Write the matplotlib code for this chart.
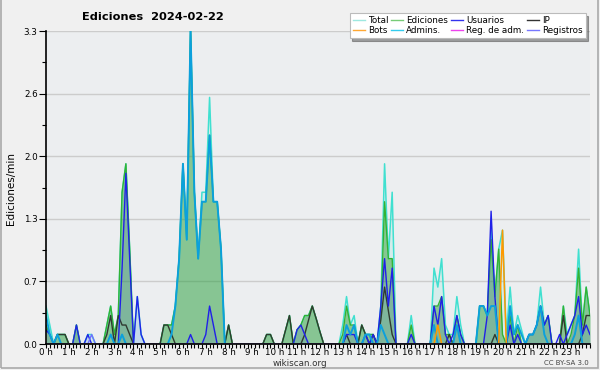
import numpy as np
import matplotlib
matplotlib.use("Agg")
import matplotlib.pyplot as plt
from matplotlib.lines import Line2D
from matplotlib.patches import Rectangle


# edits per minute, one value per 10-minute slot (0h00 .. 23h50)
total = [
    0.4, 0.2, 0, 0.1, 0.1, 0.1, 0, 0, 0.2, 0, 0, 0.1,
    0.1, 0, 0, 0, 0.2, 0.4, 0.1, 0.3, 1.6, 1.9, 1.0, 0,
    0.5, 0.1, 0, 0, 0, 0, 0, 0.2, 0.2, 0.2, 0.4, 0.9,
    1.9, 1.1, 3.3, 1.6, 0.9, 1.6, 1.6, 2.6, 1.5, 1.5, 1.0, 0,
    0.2, 0, 0, 0, 0, 0, 0, 0, 0, 0, 0.1, 0.1,
    0, 0, 0, 0.15, 0.3, 0, 0.15, 0.2, 0.3, 0.3, 0.4, 0.27,
    0.13, 0, 0, 0, 0, 0, 0.2, 0.5, 0.2, 0.3, 0, 0.2,
    0.1, 0.1, 0.1, 0, 0.4, 1.9, 0.9, 1.6, 0, 0, 0, 0,
    0.3, 0, 0, 0, 0, 0, 0.8, 0.6, 0.9, 0.2, 0.1, 0.1,
    0.5, 0.2, 0, 0, 0, 0, 0.4, 0.4, 0.3, 1.2, 0.5, 1.0,
    1.2, 0.1, 0.6, 0.1, 0.3, 0.15, 0, 0.1, 0.1, 0.2, 0.6, 0.2,
    0.3, 0, 0, 0, 0.4, 0.1, 0.2, 0.3, 1.0, 0.2, 0.6, 0.3,
]

ediciones = [
    0.2, 0.1, 0, 0.1, 0.1, 0.1, 0, 0, 0.2, 0, 0, 0,
    0, 0, 0, 0, 0.2, 0.4, 0.1, 0.3, 1.6, 1.9, 1.0, 0,
    0, 0, 0, 0, 0, 0, 0, 0.2, 0.2, 0.2, 0.4, 0.9,
    1.9, 1.1, 3.3, 1.6, 0.9, 1.5, 1.5, 2.2, 1.5, 1.5, 1.0, 0,
    0.2, 0, 0, 0, 0, 0, 0, 0, 0, 0, 0.1, 0.1,
    0, 0, 0, 0.15, 0.3, 0, 0.15, 0.2, 0.3, 0.3, 0.4, 0.27,
    0.13, 0, 0, 0, 0, 0, 0.1, 0.4, 0.2, 0.2, 0, 0.2,
    0.1, 0.1, 0.1, 0, 0.3, 1.5, 0.9, 0.9, 0, 0, 0, 0,
    0.2, 0, 0, 0, 0, 0, 0.4, 0.4, 0.5, 0.1, 0.1, 0,
    0.3, 0.1, 0, 0, 0, 0, 0.4, 0.4, 0.3, 1.1, 0.5, 1.0,
    0.1, 0, 0.3, 0, 0.2, 0, 0, 0.1, 0.1, 0.2, 0.4, 0.2,
    0.3, 0, 0, 0, 0.4, 0, 0.1, 0.3, 0.8, 0.2, 0.6, 0.3,
]

usuarios = [
    0.15, 0.1, 0, 0, 0, 0, 0, 0, 0.2, 0, 0, 0.1,
    0, 0, 0, 0, 0, 0, 0, 0, 0.8, 1.8, 0.9, 0,
    0.5, 0.1, 0, 0, 0, 0, 0, 0, 0, 0, 0, 0,
    0, 0, 0.1, 0, 0, 0, 0.1, 0.4, 0.2, 0, 0, 0,
    0, 0, 0, 0, 0, 0, 0, 0, 0, 0, 0, 0,
    0, 0, 0, 0, 0, 0, 0.15, 0.2, 0.1, 0, 0, 0,
    0, 0, 0, 0, 0, 0, 0, 0.1, 0.1, 0.1, 0, 0,
    0.1, 0, 0.1, 0, 0.4, 0.9, 0.4, 0.8, 0, 0, 0, 0,
    0.1, 0, 0, 0, 0, 0, 0.4, 0.2, 0.5, 0.1, 0, 0.1,
    0.3, 0.1, 0, 0, 0, 0, 0, 0, 0.3, 1.4, 0.5, 0,
    0, 0, 0.2, 0, 0.1, 0, 0, 0.1, 0.1, 0.2, 0.4, 0.2,
    0.3, 0, 0, 0.1, 0, 0.1, 0.2, 0.3, 0.5, 0.1, 0.2, 0.1,
]

ip = [
    0, 0, 0, 0.1, 0.1, 0.1, 0, 0, 0, 0, 0, 0,
    0, 0, 0, 0, 0.1, 0.3, 0, 0.3, 0.2, 0.2, 0.1, 0,
    0, 0, 0, 0, 0, 0, 0, 0.2, 0.2, 0.1, 0, 0,
    0, 0, 0, 0, 0, 0, 0, 0, 0, 0, 0, 0,
    0.2, 0, 0, 0, 0, 0, 0, 0, 0, 0, 0.1, 0.1,
    0, 0, 0, 0.15, 0.3, 0, 0, 0, 0.1, 0.25, 0.4, 0.27,
    0.13, 0, 0, 0, 0, 0, 0, 0.1, 0, 0, 0, 0.2,
    0.1, 0, 0.1, 0, 0.25, 0.6, 0.35, 0.1, 0, 0, 0, 0,
    0, 0, 0, 0, 0, 0, 0, 0, 0, 0, 0.1, 0,
    0, 0, 0, 0, 0, 0, 0, 0, 0, 0, 0.1, 0,
    0, 0, 0, 0, 0, 0, 0, 0, 0, 0, 0, 0,
    0, 0, 0, 0, 0.3, 0, 0, 0, 0, 0.1, 0.3, 0.3,
]

bots = [
    0, 0, 0, 0, 0, 0, 0, 0, 0, 0, 0, 0,
    0, 0, 0, 0, 0, 0, 0, 0, 0, 0, 0, 0,
    0, 0, 0, 0, 0, 0, 0, 0, 0, 0, 0, 0,
    0, 0, 0, 0, 0, 0, 0, 0, 0, 0, 0, 0,
    0, 0, 0, 0, 0, 0, 0, 0, 0, 0, 0, 0,
    0, 0, 0, 0, 0, 0, 0, 0, 0, 0, 0, 0,
    0, 0, 0, 0, 0, 0, 0, 0, 0, 0, 0, 0,
    0, 0, 0, 0, 0, 0, 0, 0, 0, 0, 0, 0,
    0, 0, 0, 0, 0, 0, 0, 0.2, 0, 0, 0, 0,
    0, 0, 0, 0, 0, 0, 0, 0, 0, 0, 0, 0,
    1.2, 0, 0, 0, 0, 0, 0, 0, 0, 0, 0, 0,
    0, 0, 0, 0, 0, 0, 0, 0, 0, 0, 0, 0,
]

admins = [
    0.3, 0.1, 0, 0.1, 0, 0, 0, 0, 0, 0, 0, 0,
    0, 0, 0, 0, 0, 0.1, 0, 0, 0.1, 0, 0, 0,
    0, 0, 0, 0, 0, 0, 0, 0, 0, 0.1, 0.4, 0.9,
    1.9, 1.1, 3.3, 1.6, 0.9, 1.5, 1.5, 2.2, 1.5, 1.5, 1.0, 0,
    0, 0, 0, 0, 0, 0, 0, 0, 0, 0, 0, 0,
    0, 0, 0, 0, 0, 0, 0, 0, 0, 0, 0, 0,
    0, 0, 0, 0, 0, 0, 0, 0.2, 0.1, 0.2, 0, 0,
    0.1, 0.1, 0, 0, 0.2, 0.1, 0, 0, 0, 0, 0, 0,
    0, 0, 0, 0, 0, 0, 0.2, 0, 0, 0, 0, 0,
    0.2, 0, 0, 0, 0, 0, 0.4, 0.4, 0.3, 0.4, 0.4, 0,
    0, 0, 0.4, 0.1, 0.2, 0.1, 0, 0.1, 0.1, 0.2, 0.4, 0.1,
    0, 0, 0, 0, 0, 0, 0, 0.1, 0.3, 0, 0, 0,
]

reg_adm = [0.0] * 144

registros = [
    0, 0, 0, 0, 0, 0, 0, 0, 0, 0, 0, 0,
    0.1, 0, 0, 0, 0, 0, 0, 0, 0, 0, 0, 0,
] + [0.0] * 120

hour_labels = ["%d h" % h for h in range(24)]

BG_FIG = "#f0f0f0"
BG_AX = "#eceef0"


def main():
    t = np.arange(len(total)) / 6.0

    fig = plt.figure(figsize=(6.0, 3.7), dpi=100, facecolor=BG_FIG)
    ax = fig.add_axes([46 / 600, 26 / 370, 544 / 600, 313 / 370])
    ax.set_facecolor(BG_AX)

    # fills first, lines on top
    ax.fill_between(t, total, color="#40e0d0", alpha=0.13, lw=0)
    ax.fill_between(t, ediciones, color="#289628", alpha=0.45, lw=0)
    ax.fill_between(t, usuarios, color="#3333ee", alpha=0.1, lw=0)

    ax.plot(t, total, color="#40e0d0", lw=1.1)
    ax.plot(t, ediciones, color="#33b233", lw=1.0)
    ax.plot(t, ip, color="#303a30", lw=1.0)
    ax.plot(t, usuarios, color="#2020e8", lw=1.0)
    ax.plot(t, admins, color="#0ca0dc", lw=1.4)
    ax.plot(t, bots, color="#ff9900", lw=1.1)
    ax.plot(t, reg_adm, color="#ee22ee", lw=1.0)
    ax.plot(t, registros, color="#6f6fff", lw=1.0)

    ax.set_xlim(0, t[-1])
    ax.set_ylim(0, 3.3)

    yt = np.linspace(0, 3.3, 6)
    ax.set_yticks(yt)
    ax.set_yticklabels(["%.1f" % v for v in yt])
    ax.set_yticks(np.arange(0.33, 3.3, 0.66), minor=True)
    ax.set_xticks(np.arange(24))
    ax.set_xticklabels(hour_labels)
    ax.set_xticks(t, minor=True)

    ax.grid(axis="y", which="major", color="#cccccc", lw=1.0)
    ax.set_axisbelow(True)
    for s in ("top", "right"):
        ax.spines[s].set_visible(False)
    for s in ("left", "bottom"):
        ax.spines[s].set_color("black")
        ax.spines[s].set_linewidth(1.2)
        ax.spines[s].set_zorder(5)

    ax.tick_params(axis="both", which="both", direction="out", color="black",
                   labelsize=6.3)
    ax.tick_params(axis="x", which="both", length=3, width=0.8, pad=0)
    ax.tick_params(axis="y", which="major", length=5, width=0.8, pad=1)
    ax.tick_params(axis="y", which="minor", length=3, width=0.8)

    fig.text(11 / 600, 0.49, "Ediciones/min", fontsize=7.5, rotation=90,
             ha="center", va="center")
    fig.text(0.255, 0.953, "Ediciones  2024-02-22", fontsize=8.2,
             fontweight="bold", ha="center", va="center")
    fig.text(0.5, 0.018, "wikiscan.org", fontsize=6.3, ha="center",
             va="center", color="#333333")
    fig.text(0.982, 0.02, "CC BY-SA 3.0", fontsize=5, ha="right", va="center",
             color="#444444")

    names = ["Total", "Bots", "Ediciones", "Admins.", "Usuarios", "Reg. de adm.",
             "IP", "Registros"]
    colors = ["#9ee8e0", "#ffa833", "#77cc77", "#33ccee", "#3333ee", "#ee44ee",
              "#333333", "#7777ff"]
    handles = [Line2D([], [], color=c, lw=1.0) for c in colors]
    leg = fig.legend(handles, names, ncol=4, loc="upper right",
                     bbox_to_anchor=(590 / 600, 1 - 9 / 370), fontsize=6.3,
                     handlelength=1.4, handletextpad=0.35, columnspacing=0.3,
                     labelspacing=0.1, borderpad=0.35, frameon=True,
                     fancybox=False, shadow=True, edgecolor="#bbbbbb")
    leg.get_frame().set_facecolor("white")
    leg.get_frame().set_linewidth(0.8)

    # light frame around the picture (top edge off-canvas)
    fig.patches.append(Rectangle((1 / 600, 2 / 370), 597 / 600, 1.0,
                                 transform=fig.transFigure, fill=False,
                                 edgecolor="#aaaaaa", lw=1.2))

    fig.savefig("out.png", dpi=100, facecolor=BG_FIG)


if __name__ == "__main__":
    main()
